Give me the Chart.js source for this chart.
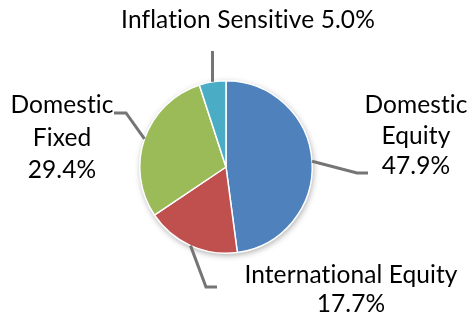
<!DOCTYPE html>
<html>
<head>
<meta charset="utf-8">
<script src="https://cdn.jsdelivr.net/npm/chart.js@4"></script>
<style>
  html, body { margin: 0; padding: 0; background: #fff; }
  #wrap { width: 470px; height: 317px; position: relative; }
</style>
</head>
<body>
<div id="wrap"><canvas id="myChart1" width="470" height="317"></canvas></div>
<script>
// Data
const categories = ['Domestic Equity', 'International Equity', 'Domestic Fixed', 'Inflation Sensitive'];
const shares = [47.9, 17.7, 29.4, 5.0];
const sliceColors = ['#4F81BD', '#C0504D', '#9BBB59', '#4BACC6'];

// How each label text is split into lines (percentage is added from shares)
const labelLines = [['Domestic', 'Equity'], ['International Equity'], ['Domestic', 'Fixed'], ['Inflation Sensitive']];
const pctOnSameLine = [false, false, false, true];

// Label layout: elbow of leader line, end of leader, text centre, first baseline, line step
const labelPlace = [
    { elbow: [357, 173], end: [368, 173], x: 416, y: 113, step: 30.5 },
    { elbow: [206, 287], end: [217, 287], x: 351, y: 283, step: 29 },
    { elbow: [126, 113], end: [114, 113], x: 62, y: 113, step: 32.5 },
    { elbow: null, end: null, x: 248, y: 28, step: 0 }
];

const FONT = '24.5px Lato';

const pieDecor = {
    id: 'pieDecor',
    beforeDatasetsDraw(chart) {
        // soft shadow under the pie
        const arc = chart.getDatasetMeta(0).data[0];
        if (!arc) return;
        const ctx = chart.ctx;
        ctx.save();
        ctx.shadowColor = 'rgba(0,0,0,0.35)';
        ctx.shadowBlur = 6;
        ctx.shadowOffsetX = 1;
        ctx.shadowOffsetY = 2;
        ctx.beginPath();
        ctx.arc(arc.x, arc.y, arc.outerRadius, 0, Math.PI * 2);
        ctx.fillStyle = '#fff';
        ctx.fill();
        ctx.restore();
    },
    afterDatasetsDraw(chart) {
        const ctx = chart.ctx;
        const arcs = chart.getDatasetMeta(0).data;
        ctx.save();
        arcs.forEach((arc, i) => {
            const p = labelPlace[i];
            const mid = (arc.startAngle + arc.endAngle) / 2;
            const sx = arc.x + Math.cos(mid) * arc.outerRadius;
            const sy = arc.y + Math.sin(mid) * arc.outerRadius;

            // leader line
            ctx.strokeStyle = '#757575';
            ctx.lineWidth = 3;
            ctx.beginPath();
            ctx.moveTo(sx, sy);
            if (p.elbow) {
                ctx.lineTo(p.elbow[0], p.elbow[1]);
                ctx.lineTo(p.end[0], p.end[1]);
            } else {
                ctx.lineTo(sx, 51);
            }
            ctx.stroke();

            // label text
            const pct = shares[i].toFixed(1) + '%';
            let lines = labelLines[i].slice();
            if (pctOnSameLine[i]) {
                lines[lines.length - 1] += ' ' + pct;
            } else {
                lines.push(pct);
            }
            ctx.fillStyle = '#000';
            ctx.font = FONT;
            ctx.letterSpacing = '0.1px'; // keeps Lato from joining "ti"
            ctx.textAlign = 'center';
            ctx.textBaseline = 'alphabetic';
            lines.forEach((t, k) => {
                ctx.fillText(t, p.x, p.y + k * p.step);
            });
        });
        ctx.restore();
    }
};

const ctx = document.getElementById('myChart1').getContext('2d');
const myChart1 = new Chart(ctx, {
    type: 'pie',
    data: {
        labels: categories,
        datasets: [{
            data: shares,
            backgroundColor: sliceColors,
            borderColor: '#fff',
            borderWidth: 1.5
        }]
    },
    options: {
        responsive: false,
        animation: false,
        layout: {
            padding: { left: 139, right: 157, top: 80, bottom: 63 }
        },
        plugins: {
            legend: { display: false },
            tooltip: { enabled: false }
        }
    },
    plugins: [pieDecor]
});
</script>
</body>
</html>
